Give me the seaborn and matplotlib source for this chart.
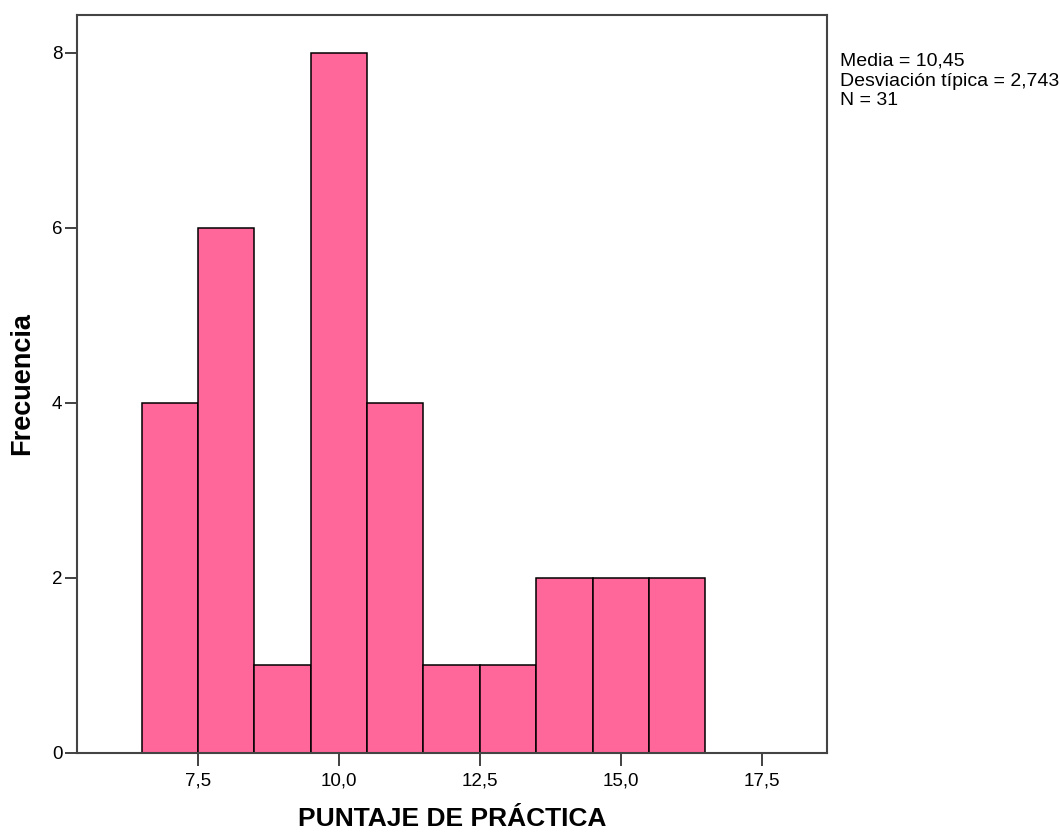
import matplotlib
matplotlib.use("Agg")
import matplotlib.pyplot as plt
import seaborn as sns
import pandas as pd

####### data #######
puntaje = [7, 8, 9, 10, 11, 12, 13, 14, 15, 16]
frecuencia = [4, 6, 1, 8, 4, 1, 1, 2, 2, 2]
x_ticks = [7.5, 10.0, 12.5, 15.0, 17.5]
y_ticks = [0, 2, 4, 6, 8]
stats_text = "Media = 10,45\nDesviación típica = 2,743\nN = 31"

df = pd.DataFrame({"puntaje": puntaje, "frecuencia": frecuencia})

sns.set_theme(style="white")
plt.rcParams["font.family"] = ["Liberation Sans", "DejaVu Sans"]
plt.rcParams["text.color"] = "black"
plt.rcParams["axes.labelcolor"] = "black"
plt.rcParams["xtick.color"] = "black"
plt.rcParams["ytick.color"] = "black"

fig = plt.figure(figsize=(10.6, 8.32), dpi=100)
ax = fig.add_axes([0.0726, 0.095, 0.708, 0.887])

sns.histplot(data=df, x="puntaje", weights="frecuencia", discrete=True,
             color="#ff6699", alpha=1, edgecolor="black", linewidth=1.1, ax=ax)

ax.set_xlim(5.355, 18.665)
ax.set_ylim(0, 8.43)
ax.set_xticks(x_ticks)
ax.set_xticklabels([f"{t:.1f}".replace(".", ",") for t in x_ticks])
ax.set_yticks(y_ticks)
ax.set_yticklabels([str(t) for t in y_ticks])
ax.tick_params(axis="x", direction="out", length=9, width=1.3, color="#333333",
               pad=5, labelsize=13.5, bottom=True)
ax.tick_params(axis="y", direction="out", length=9, width=1.3, color="#333333",
               pad=1.5, labelsize=13.5, left=True)

for side in ["left", "right", "top", "bottom"]:
    ax.spines[side].set_visible(True)
    ax.spines[side].set_color("#444444")
    ax.spines[side].set_linewidth(1.5)

ax.set_xlabel("PUNTAJE DE PRÁCTICA", fontsize=19, fontweight="bold", labelpad=13)
ax.set_ylabel("Frecuencia", fontsize=19.5, fontweight="bold", labelpad=12)

fig.text(840 / 1060, 1 - 53 / 832, stats_text, fontsize=14, va="top", ha="left",
         linespacing=1.2)

fig.savefig("out.png", dpi=100)
